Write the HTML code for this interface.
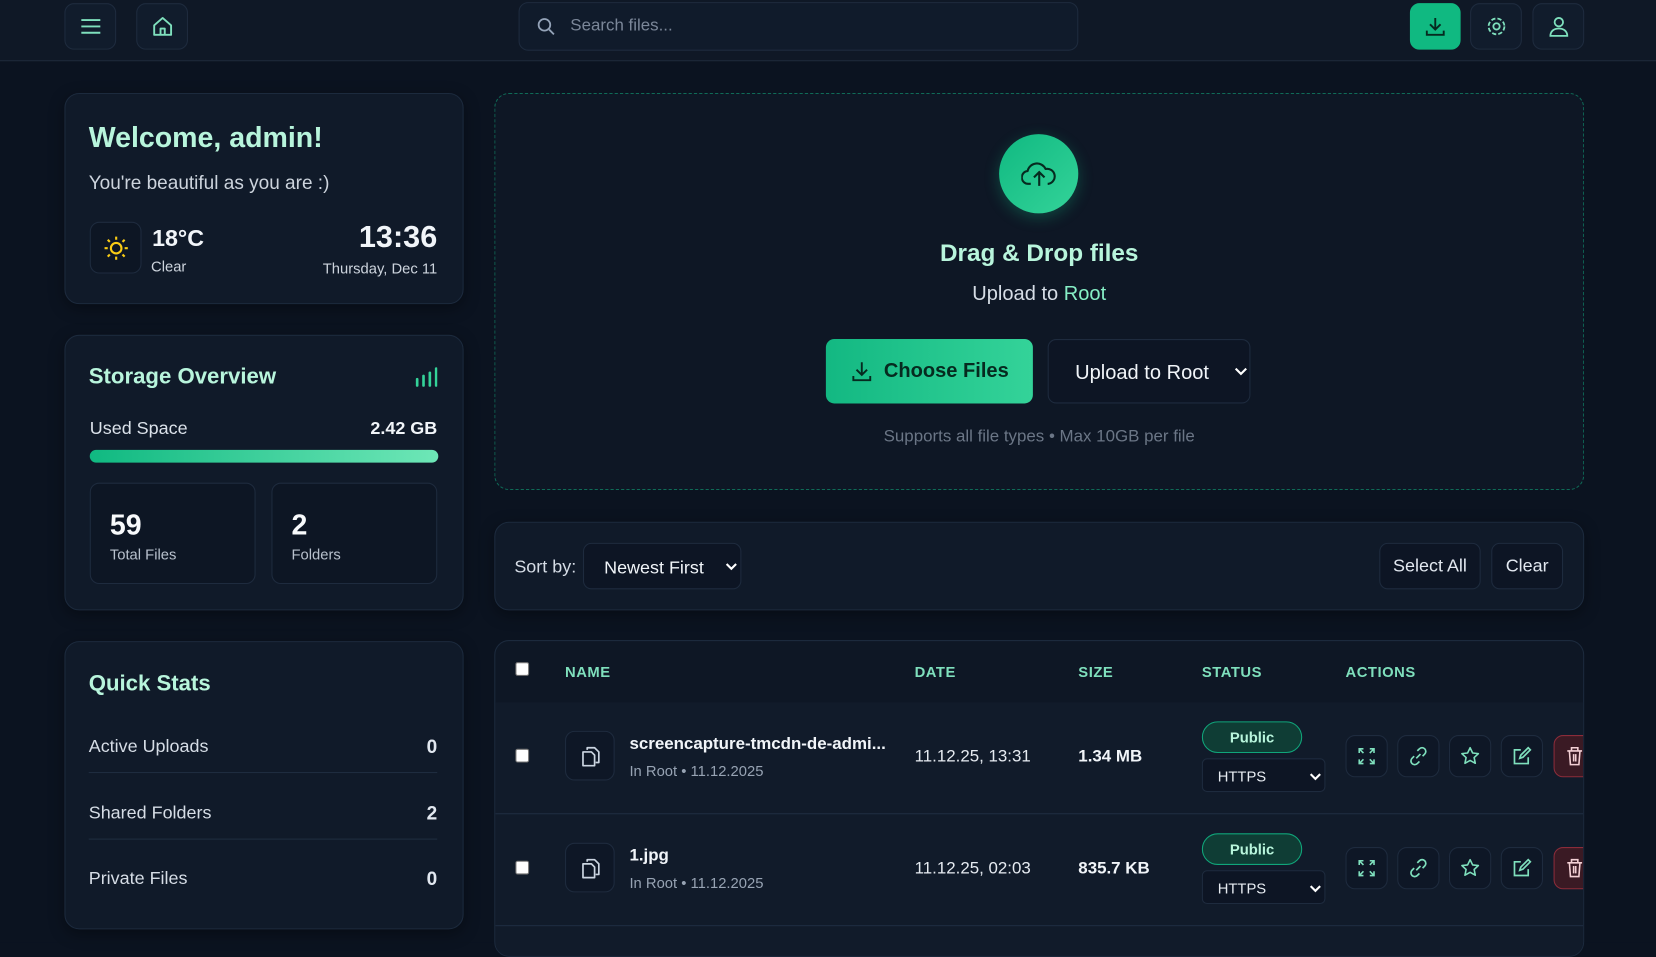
<!DOCTYPE html>
<html><head><meta charset="utf-8"><style>
*{box-sizing:border-box;margin:0;padding:0}
html,body{width:1656px;height:942px;overflow:hidden;background:#0b1320}
#w{position:absolute;left:0;top:0;width:1568px;height:892px;transform:scale(1.05612);transform-origin:0 0;font-family:"Liberation Sans",sans-serif;color:#e2e8f0;background:#0b1320}
.a{position:absolute}
.card{position:absolute;background:#101a29;border:1px solid #1c2a3d;border-radius:14px;box-shadow:0 4px 14px rgba(0,0,0,.35)}
.btn{position:absolute;background:#111c2c;border:1px solid #1e2b3e;border-radius:9px;display:flex;align-items:center;justify-content:center}
.mint{color:#b8f5dc}
.row{position:absolute;left:84px;width:330px;font-size:16px;color:#d6dde6;border-bottom:1px solid #1f2d40;height:1px}
svg{display:block}
.ib{position:absolute;width:40px;height:40px;border:1px solid #1e2b3e;border-radius:9px;background:#0e1726;display:flex;align-items:center;justify-content:center}
.pub{position:absolute;left:1138px;width:95px;height:30px;border:1px solid #10a57a;background:#0f3d35;border-radius:15px;color:#b8f5dc;font-weight:bold;font-size:14px;text-align:center;line-height:28px}
.sel{position:absolute;left:1138px;width:117px;height:32px;border:1px solid #1e2b3e;background:#0d1524;border-radius:5px;font-size:14px;color:#e6ebf1;padding:8px 14px}
.chk{position:absolute;left:488px;width:13px;height:13px;background:#fff;border-radius:2px;border:1px solid #777}
</style></head><body><div id="w">
<!-- header -->
<div class="a" style="left:0;top:0;width:1568px;height:58px;background:#0f1826;border-bottom:1px solid #1f2a3a"></div>
<div class="btn" style="left:61px;top:3px;width:49px;height:44px"><svg width="20" height="16"><path d="M1 2h18M1 8h18M1 14h18" stroke="#7fe0bd" stroke-width="1.8"/></svg></div>
<div class="btn" style="left:129px;top:3px;width:49px;height:44px"><svg width="22" height="22" viewBox="0 0 22 22"><path d="M3 10L11 3l8 7v9H3z M9 19v-6h4v6" fill="none" stroke="#7fe0bd" stroke-width="1.8" stroke-linejoin="round"/></svg></div>
<div class="btn" style="left:491px;top:2px;width:530px;height:46px;justify-content:flex-start;padding-left:16px;background:#101b2b"><svg width="18" height="18"><circle cx="7.5" cy="7.5" r="5.5" fill="none" stroke="#94a3b8" stroke-width="1.7"/><path d="M12 12l4.5 4.5" stroke="#94a3b8" stroke-width="1.7"/></svg><span style="margin-left:14px;color:#7b8799;font-size:16px">Search files...</span></div>
<div class="btn" style="left:1335px;top:3px;width:48px;height:44px;background:#10b981;border-color:#10b981"><svg width="22" height="22"><path d="M11 3v11M6 9l5 5 5-5M3 15v4h16v-4" fill="none" stroke="#062a1f" stroke-width="1.8"/></svg></div>
<div class="btn" style="left:1392px;top:3px;width:49px;height:44px"><svg width="22" height="22"><circle cx="11" cy="11" r="3" fill="none" stroke="#7fe0bd" stroke-width="1.7"/><circle cx="11" cy="11" r="7.5" fill="none" stroke="#7fe0bd" stroke-width="1.7" stroke-dasharray="4 2"/></svg></div>
<div class="btn" style="left:1451px;top:3px;width:49px;height:44px"><svg width="22" height="22"><circle cx="11" cy="7" r="4" fill="none" stroke="#7fe0bd" stroke-width="1.7"/><path d="M3 20c0-5 4-7 8-7s8 2 8 7z" fill="none" stroke="#7fe0bd" stroke-width="1.7"/></svg></div>

<!-- welcome -->
<div class="card" style="left:61px;top:88px;width:378px;height:200px"></div>
<div class="a mint" style="left:84px;top:115px;font-size:27px;font-weight:bold">Welcome, admin!</div>
<div class="a" style="left:84px;top:163px;font-size:18px;color:#cdd4dd">You're beautiful as you are :)</div>
<div class="a" style="left:85px;top:210px;width:49px;height:49px;border:1px solid #1e2b3e;border-radius:9px;background:#0d1624;display:flex;align-items:center;justify-content:center"><svg width="26" height="26"><circle cx="13" cy="13" r="5" fill="none" stroke="#facc15" stroke-width="2"/><path d="M13 2v3M13 21v3M2 13h3M21 13h3M5 5l2 2M19 19l2 2M5 21l2-2M19 7l2-2" stroke="#facc15" stroke-width="2"/></svg></div>
<div class="a" style="left:144px;top:213px;font-size:22px;font-weight:bold;color:#f1f5f9">18°C</div>
<div class="a" style="left:143px;top:244px;font-size:14px;color:#cdd4dd">Clear</div>
<div class="a" style="right:1154px;top:209px;font-size:29px;font-weight:bold;color:#f1f5f9;text-align:right">13:36</div>
<div class="a" style="right:1154px;top:246px;font-size:14px;color:#cdd4dd;text-align:right;white-space:nowrap">Thursday, Dec 11</div>

<!-- storage -->
<div class="card" style="left:61px;top:317px;width:378px;height:261px"></div>
<div class="a mint" style="left:84px;top:345px;font-size:21px;font-weight:bold">Storage Overview</div>
<svg class="a" style="left:392px;top:347px" width="22" height="20"><path d="M3 18v-6M9 18v-9M15 18v-12M21 18V2" stroke="#34d399" stroke-width="2.5" stroke-linecap="round" fill="none"/></svg>
<div class="a" style="left:85px;top:396px;font-size:17px;color:#dbe2ea">Used Space</div>
<div class="a" style="right:1154px;top:396px;font-size:17px;font-weight:bold;color:#f1f5f9">2.42 GB</div>
<div class="a" style="left:85px;top:426px;width:330px;height:12px;border-radius:6px;background:linear-gradient(90deg,#10b981,#6ee7b7)"></div>
<div class="a" style="left:85px;top:457px;width:157px;height:96px;border:1px solid #1e2b3e;border-radius:9px;background:#0d1624"></div>
<div class="a" style="left:257px;top:457px;width:157px;height:96px;border:1px solid #1e2b3e;border-radius:9px;background:#0d1624"></div>
<div class="a" style="left:104px;top:482px;font-size:27px;font-weight:bold;color:#f8fafc">59</div>
<div class="a" style="left:104px;top:517px;font-size:14px;color:#b8c1cd">Total Files</div>
<div class="a" style="left:276px;top:482px;font-size:27px;font-weight:bold;color:#f8fafc">2</div>
<div class="a" style="left:276px;top:517px;font-size:14px;color:#b8c1cd">Folders</div>

<!-- quick stats -->
<div class="card" style="left:61px;top:607px;width:378px;height:273px"></div>
<div class="a mint" style="left:84px;top:636px;font-size:21px;font-weight:bold">Quick Stats</div>
<div class="a" style="left:84px;top:697px;font-size:17px;color:#d6dde6">Active Uploads</div>
<div class="a" style="right:1154px;top:697px;font-size:18px;font-weight:bold">0</div>
<div class="row" style="top:731px"></div>
<div class="a" style="left:84px;top:760px;font-size:17px;color:#d6dde6">Shared Folders</div>
<div class="a" style="right:1154px;top:760px;font-size:18px;font-weight:bold">2</div>
<div class="row" style="top:794px"></div>
<div class="a" style="left:84px;top:822px;font-size:17px;color:#d6dde6">Private Files</div>
<div class="a" style="right:1154px;top:822px;font-size:18px;font-weight:bold">0</div>

<!-- upload zone -->
<div class="a" style="left:468px;top:88px;width:1032px;height:376px;border:1.5px dashed #0f6b57;border-radius:14px;background:#0e1725"></div>
<div class="a" style="left:946px;top:127px;width:75px;height:75px;border-radius:50%;background:linear-gradient(135deg,#10b981,#34d399);box-shadow:0 4px 14px rgba(16,185,129,.3);display:flex;align-items:center;justify-content:center"><svg width="34" height="30"><path d="M9 24h-2a6 6 0 0 1-1-12 9 9 0 0 1 17-2 7 7 0 0 1 3 14h-1" fill="none" stroke="#062a1f" stroke-width="2" stroke-linejoin="round"/><path d="M17 26V14M12 18l5-5 5 5" fill="none" stroke="#062a1f" stroke-width="2"/></svg></div>
<div class="a mint" style="left:468px;width:1032px;top:226px;text-align:center;font-size:23px;font-weight:bold">Drag &amp; Drop files</div>
<div class="a" style="left:468px;width:1032px;top:268px;text-align:center;font-size:19px;color:#d6dde6">Upload to <span style="color:#86efc6">Root</span></div>
<div class="a" style="left:782px;top:321px;width:196px;height:61px;border-radius:8px;background:linear-gradient(90deg,#13b882,#34d399);display:flex;align-items:center;justify-content:center;font-size:19px;color:#062a1f;font-weight:bold"><svg width="22" height="22" style="margin-right:10px"><path d="M11 2v12M6 9l5 5 5-5M3 15v4h16v-4" fill="none" stroke="#062a1f" stroke-width="1.8"/></svg>Choose Files</div>
<div class="a" style="left:992px;top:321px;width:192px;height:61px;border:1px solid #1e2b3e;border-radius:8px;background:#0d1524;font-size:19px;color:#f1f5f9;padding:21px 0 0 25px">Upload to Root<svg class="a" style="left:176px;top:26px" width="12" height="8"><path d="M1 1l5 5 5-5" fill="none" stroke="#fff" stroke-width="2"/></svg></div>
<div class="a" style="left:468px;width:1032px;top:405px;text-align:center;font-size:16px;color:#6b7686">Supports all file types • Max 10GB per file</div>

<!-- sort bar -->
<div class="card" style="left:468px;top:494px;width:1032px;height:84px"></div>
<div class="a" style="left:487px;top:527px;font-size:17px;color:#d6dde6">Sort by:</div>
<div class="a" style="left:552px;top:514px;width:150px;height:44px;border:1px solid #1e2b3e;border-radius:8px;background:#0d1524;font-size:17px;color:#f1f5f9;padding:13px 0 0 19px">Newest First<svg class="a" style="left:134px;top:18px" width="11" height="8"><path d="M1 1l4.5 4.5L10 1" fill="none" stroke="#fff" stroke-width="2"/></svg></div>
<div class="a" style="left:1306px;top:514px;width:96px;height:44px;border:1px solid #1e2b3e;border-radius:8px;background:#0d1524;font-size:17px;text-align:center;line-height:42px">Select All</div>
<div class="a" style="left:1412px;top:514px;width:68px;height:44px;border:1px solid #1e2b3e;border-radius:8px;background:#0d1524;font-size:17px;text-align:center;line-height:42px">Clear</div>

<!-- table -->
<div class="a" style="left:468px;top:606px;width:1032px;height:300px;border:1px solid #1c2a3d;border-radius:14px;background:#0e1725;overflow:hidden">
 <div class="a" style="left:0;top:58px;width:1032px;height:242px;background:#111b2a"></div>
 <div class="a" style="left:0;top:163px;width:1032px;height:1px;background:#1f2d42"></div>
 <div class="a" style="left:0;top:269px;width:1032px;height:1px;background:#1f2d42"></div>
</div>
<div class="chk" style="top:627px"></div>
<div class="a" style="top:628px;left:535px;font-size:14px;font-weight:bold;color:#7fe0bd;letter-spacing:.5px">NAME</div>
<div class="a" style="top:628px;left:866px;font-size:14px;font-weight:bold;color:#7fe0bd;letter-spacing:.5px">DATE</div>
<div class="a" style="top:628px;left:1021px;font-size:14px;font-weight:bold;color:#7fe0bd;letter-spacing:.5px">SIZE</div>
<div class="a" style="top:628px;left:1138px;font-size:14px;font-weight:bold;color:#7fe0bd;letter-spacing:.5px">STATUS</div>
<div class="a" style="top:628px;left:1274px;font-size:14px;font-weight:bold;color:#7fe0bd;letter-spacing:.5px">ACTIONS</div>

<!-- row 1 -->
<div class="chk" style="top:709px"></div>
<div class="ib" style="left:535px;top:692px;width:47px;height:47px"><svg width="22" height="22"><path d="M8 5V3h7l4 4v10h-3M4 7h8l3 3v10H4z" fill="none" stroke="#cbd5e1" stroke-width="1.6" stroke-linejoin="round"/></svg></div>
<div class="a" style="left:596px;top:696px;font-size:16px;font-weight:bold;color:#f1f5f9">screencapture-tmcdn-de-admi...</div>
<div class="a" style="left:596px;top:722px;font-size:14px;color:#97a3b3">In Root • 11.12.2025</div>
<div class="a" style="left:866px;top:708px;font-size:16px;color:#e6ebf1">11.12.25, 13:31</div>
<div class="a" style="left:1021px;top:708px;font-size:16px;font-weight:bold;color:#f1f5f9">1.34 MB</div>
<div class="pub" style="top:683px">Public</div>
<div class="sel" style="top:718px">HTTPS<svg class="a" style="left:101px;top:13px" width="11" height="8"><path d="M1 1l4.5 4.5L10 1" fill="none" stroke="#fff" stroke-width="2"/></svg></div>

<!-- row 2 -->
<div class="chk" style="top:815px"></div>
<div class="ib" style="left:535px;top:798px;width:47px;height:47px"><svg width="22" height="22"><path d="M8 5V3h7l4 4v10h-3M4 7h8l3 3v10H4z" fill="none" stroke="#cbd5e1" stroke-width="1.6" stroke-linejoin="round"/></svg></div>
<div class="a" style="left:596px;top:802px;font-size:16px;font-weight:bold;color:#f1f5f9">1.jpg</div>
<div class="a" style="left:596px;top:828px;font-size:14px;color:#97a3b3">In Root • 11.12.2025</div>
<div class="a" style="left:866px;top:814px;font-size:16px;color:#e6ebf1">11.12.25, 02:03</div>
<div class="a" style="left:1021px;top:814px;font-size:16px;font-weight:bold;color:#f1f5f9">835.7 KB</div>
<div class="pub" style="top:789px">Public</div>
<div class="sel" style="top:824px">HTTPS<svg class="a" style="left:101px;top:13px" width="11" height="8"><path d="M1 1l4.5 4.5L10 1" fill="none" stroke="#fff" stroke-width="2"/></svg></div>

<!-- action icons -->
<div class="a" style="left:0;top:0;width:1499px;height:892px;overflow:hidden">
 <div class="ib" style="left:1274px;top:696px"><svg width="18" height="18"><path d="M2 6V2h4M12 2h4v4M16 12v4h-4M6 16H2v-4M2 2l4 4M16 2l-4 4M16 16l-4-4M2 16l4-4" fill="none" stroke="#7fe0bd" stroke-width="1.5"/></svg></div>
 <div class="ib" style="left:1323px;top:696px"><svg width="20" height="20"><path d="M8 12l4-4M9 5l2-2a3.5 3.5 0 0 1 5 5l-2 2M11 15l-2 2a3.5 3.5 0 0 1-5-5l2-2" fill="none" stroke="#7fe0bd" stroke-width="1.6"/></svg></div>
 <div class="ib" style="left:1372px;top:696px"><svg width="20" height="20"><path d="M10 2l2.4 5 5.4.6-4 3.7 1.1 5.4L10 14l-4.9 2.7 1.1-5.4-4-3.7 5.4-.6z" fill="none" stroke="#7fe0bd" stroke-width="1.5" stroke-linejoin="round"/></svg></div>
 <div class="ib" style="left:1421px;top:696px"><svg width="20" height="20"><path d="M9 4H3v13h13v-6M8 12l1-3 7-7 2 2-7 7z" fill="none" stroke="#7fe0bd" stroke-width="1.6"/></svg></div>
 <div class="ib" style="left:1471px;top:696px;background:#3a1a24;border-color:#8b2c3a"><svg width="18" height="20"><path d="M2 5h14M6 5V2h6v3M4 5l1 13h8l1-13M8 8v7M10 8v7" fill="none" stroke="#f3d0d5" stroke-width="1.5"/></svg></div>
 <div class="ib" style="left:1274px;top:802px"><svg width="18" height="18"><path d="M2 6V2h4M12 2h4v4M16 12v4h-4M6 16H2v-4M2 2l4 4M16 2l-4 4M16 16l-4-4M2 16l4-4" fill="none" stroke="#7fe0bd" stroke-width="1.5"/></svg></div>
 <div class="ib" style="left:1323px;top:802px"><svg width="20" height="20"><path d="M8 12l4-4M9 5l2-2a3.5 3.5 0 0 1 5 5l-2 2M11 15l-2 2a3.5 3.5 0 0 1-5-5l2-2" fill="none" stroke="#7fe0bd" stroke-width="1.6"/></svg></div>
 <div class="ib" style="left:1372px;top:802px"><svg width="20" height="20"><path d="M10 2l2.4 5 5.4.6-4 3.7 1.1 5.4L10 14l-4.9 2.7 1.1-5.4-4-3.7 5.4-.6z" fill="none" stroke="#7fe0bd" stroke-width="1.5" stroke-linejoin="round"/></svg></div>
 <div class="ib" style="left:1421px;top:802px"><svg width="20" height="20"><path d="M9 4H3v13h13v-6M8 12l1-3 7-7 2 2-7 7z" fill="none" stroke="#7fe0bd" stroke-width="1.6"/></svg></div>
 <div class="ib" style="left:1471px;top:802px;background:#3a1a24;border-color:#8b2c3a"><svg width="18" height="20"><path d="M2 5h14M6 5V2h6v3M4 5l1 13h8l1-13M8 8v7M10 8v7" fill="none" stroke="#f3d0d5" stroke-width="1.5"/></svg></div>
</div>
</div></body></html>
